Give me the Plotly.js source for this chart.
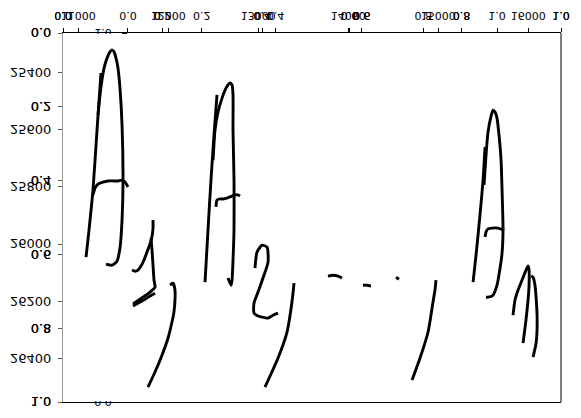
<!DOCTYPE html>
<html><head><meta charset="utf-8">
<script src="https://cdn.plot.ly/plotly-3.0.1.min.js"></script>
<style>
html,body{margin:0;padding:0;background:#fff;overflow:hidden}
#chart{width:581px;height:418px;transform:scaleY(-1);transform-origin:50% 50%;}
</style></head><body><div id="chart"></div><script>
// tick sets
const unitTicks = [0, 0.2, 0.4, 0.6, 0.8, 1.0];
const unitLabels = ["0.0", "0.2", "0.4", "0.6", "0.8", "1.0"];
const xTicks = [11000, 12000, 13000, 14000, 15000, 16000];
const xLabels = ["11000", "12000", "13000", "14000", "15000", "16000"];
const yTicks = [25400, 25600, 25800, 26000, 26200, 26400];
const yLabels = ["25400", "25600", "25800", "26000", "26200", "26400"];
const insetYTicks = [0, 1];
const insetYLabels = ["0.0", "1.0"];

// curve strokes (x, y)
const leg1X = [11086, 11119, 11163, 11208, 11252];
const leg1Y = [26046, 25951, 25811, 25601, 25401];
const arch1X = [11219, 11241, 11263, 11286, 11319, 11352, 11374, 11397, 11419, 11441, 11463, 11486, 11497, 11486, 11463, 11430, 11374, 11308];
const arch1Y = [25548, 25478, 25426, 25384, 25349, 25327, 25320, 25327, 25349, 25384, 25454, 25583, 25776, 25916, 26014, 26060, 26074, 26070];
const shelf1X = [11163, 11186, 11219, 11274, 11330, 11397, 11441, 11486, 11519, 11552];
const shelf1Y = [25828, 25804, 25790, 25783, 25779, 25779, 25779, 25776, 25783, 25800];
const hookAX = [11597, 11630, 11663, 11697, 11730, 11763, 11797, 11819, 11830, 11830];
const hookAY = [26091, 26095, 26091, 26077, 26056, 26028, 26000, 25973, 25944, 25916];
const hookBX = [11808, 11819, 11830, 11841, 11852, 11797, 11719, 11652, 11608];
const hookBY = [25979, 26021, 26074, 26126, 26151, 26168, 26186, 26200, 26210];
const hookCX = [11608, 11663, 11741, 11797, 11852];
const hookCY = [26217, 26207, 26193, 26182, 26172];
const tail1X = [12019, 12052, 12074, 12074, 12063, 12041, 11997, 11930, 11852, 11774];
const tail1Y = [26144, 26137, 26161, 26196, 26238, 26273, 26329, 26389, 26448, 26501];
const leg2X = [12408, 12441, 12474, 12508, 12541];
const leg2Y = [26133, 25951, 25776, 25618, 25478];
const arch2X = [12497, 12519, 12552, 12597, 12641, 12686, 12708, 12719, 12719, 12730, 12730, 12719, 12708, 12697, 12663];
const arch2Y = [25706, 25601, 25538, 25489, 25454, 25436, 25443, 25478, 25601, 25776, 25951, 26056, 26126, 26144, 26119];
const shelf2X = [12530, 12541, 12574, 12608, 12652, 12686, 12741, 12774, 12797];
const shelf2Y = [25870, 25846, 25842, 25842, 25839, 25835, 25828, 25828, 25832];
const loopX = [12963, 12986, 13041, 13097, 13108, 13052, 12997, 12952, 12952, 12997, 13041, 13108, 13163, 13219];
const loopY = [26084, 26028, 26004, 26011, 26063, 26119, 26168, 26207, 26242, 26252, 26256, 26259, 26249, 26242];
const tail2X = [13397, 13374, 13319, 13219, 13074];
const tail2Y = [26137, 26203, 26308, 26399, 26501];
const dashAX = [13774, 13830, 13886, 13930];
const dashAY = [26112, 26109, 26112, 26119];
const dashBX = [14163, 14208, 14252];
const dashBY = [26144, 26144, 26147];
const dashCX = [14530, 14563];
const dashCY = [26116, 26123];
const tail3X = [14974, 14963, 14941, 14886, 14797, 14708];
const tail3Y = [26126, 26161, 26203, 26308, 26399, 26476];
const leg3X = [15386, 15419, 15463, 15497, 15519];
const leg3Y = [26133, 26039, 25898, 25776, 25660];
const arch3X = [15508, 15530, 15552, 15586, 15608, 15630, 15652, 15674, 15697, 15708, 15719, 15708, 15686, 15652, 15608, 15552, 15530];
const arch3Y = [25793, 25688, 25608, 25552, 25531, 25538, 25559, 25618, 25706, 25811, 25951, 26032, 26084, 26144, 26179, 26186, 26186];
const shelf3X = [15519, 15530, 15552, 15597, 15663, 15730];
const shelf3Y = [25975, 25958, 25947, 25944, 25944, 25951];
const peakAX = [15830, 15852, 15886, 15930, 15974, 15997, 16008, 16008, 15997, 15974, 15941];
const peakAY = [26249, 26196, 26161, 26126, 26091, 26077, 26091, 26144, 26196, 26266, 26347];
const peakBX = [16030, 16052, 16074, 16086, 16097, 16097, 16086, 16052];
const peakBY = [26112, 26116, 26144, 26186, 26249, 26301, 26347, 26396];

const strokes = [
  [leg1X, leg1Y], [arch1X, arch1Y], [shelf1X, shelf1Y],
  [hookAX, hookAY], [hookBX, hookBY], [hookCX, hookCY], [tail1X, tail1Y],
  [leg2X, leg2Y], [arch2X, arch2Y], [shelf2X, shelf2Y],
  [loopX, loopY], [tail2X, tail2Y],
  [dashAX, dashAY], [dashBX, dashBY], [dashCX, dashCY], [tail3X, tail3Y],
  [leg3X, leg3Y], [arch3X, arch3Y], [shelf3X, shelf3Y],
  [peakAX, peakAY], [peakBX, peakBY]
];

const traces = strokes.map(([xs, ys]) => ({
  type: 'scatter', mode: 'lines', x: xs, y: ys, xaxis: 'x3', yaxis: 'y3',
  line: {color: '#000', width: 2.9, shape: 'spline', smoothing: 0.6},
  hoverinfo: 'skip'
}));
traces.push({type: 'scatter', mode: 'lines', x: [], y: [], xaxis: 'x', yaxis: 'y'});
traces.push({type: 'scatter', mode: 'lines', x: [], y: [], xaxis: 'x2', yaxis: 'y2'});
traces.push({type: 'scatter', mode: 'lines', x: [], y: [], xaxis: 'x4', yaxis: 'y4'});

const yfont = {family: 'DejaVu Sans', size: 13, color: '#000'};
const xfont = {family: 'DejaVu Sans', size: 11, color: '#000'};
const base = {showgrid: false, zeroline: false, ticks: 'outside', ticklen: 4, tickwidth: 1, tickcolor: '#000', fixedrange: true};

const layout = {
  width: 581, height: 418,
  margin: {l: 63, r: 20, t: 16, b: 33, pad: 0},
  paper_bgcolor: '#fff', plot_bgcolor: 'rgba(0,0,0,0)', showlegend: false,
  xaxis: Object.assign({}, base, {range: [0, 1], tickvals: unitTicks, ticktext: unitLabels, tickfont: xfont,
    showline: true, linecolor: '#000', linewidth: 1, mirror: true, anchor: 'y', ticklabelstandoff: 3}),
  xaxis2: Object.assign({}, base, {range: [0, 1], tickvals: unitTicks, ticktext: unitLabels, tickfont: xfont,
    overlaying: 'x', anchor: 'y', showline: false, ticklabelstandoff: 3}),
  xaxis3: Object.assign({}, base, {range: [10830, 16363], tickvals: xTicks, ticktext: xLabels, tickfont: xfont,
    overlaying: 'x', anchor: 'y', showline: false, ticklabelstandoff: 3}),
  xaxis4: Object.assign({}, base, {domain: [0.1305, 0.8715], range: [0, 1], tickvals: unitTicks, ticktext: unitLabels,
    tickfont: xfont, anchor: 'y4', showline: false, ticklabelstandoff: 3}),
  yaxis: Object.assign({}, base, {range: [0, 1], tickvals: unitTicks, ticktext: unitLabels, tickfont: yfont,
    showline: true, linecolor: '#999', linewidth: 1, tickcolor: '#555', anchor: 'x', ticklabelstandoff: 4}),
  yaxis2: Object.assign({}, base, {range: [0, 1], tickvals: unitTicks, ticktext: unitLabels, tickfont: yfont,
    overlaying: 'y', anchor: 'x', side: 'left', showline: false, tickcolor: '#555', ticklabelstandoff: 4}),
  yaxis3: Object.assign({}, base, {range: [25261, 26553], tickvals: yTicks, ticktext: yLabels, tickfont: yfont,
    overlaying: 'y', anchor: 'x', side: 'left', showline: false, tickcolor: '#555', ticklabelstandoff: 4}),
  yaxis4: Object.assign({}, base, {domain: [0, 1], range: [1, 0], tickvals: insetYTicks, ticktext: insetYLabels,
    tickfont: xfont, anchor: 'x4', side: 'left', showline: false, ticklen: 5, ticklabelstandoff: 8}),
  shapes: [
    {type: 'line', xref: 'paper', yref: 'paper', x0: 1, x1: 1, y0: 0, y1: 1, line: {color: '#000', width: 1}},
    {type: 'rect', xref: 'paper', yref: 'paper', x0: 0.05, x1: 0.128, y0: 0.003, y1: 0.03, fillcolor: '#fff', line: {width: 0}, layer: 'above'},
    {type: 'rect', xref: 'paper', yref: 'paper', x0: 0.05, x1: 0.128, y0: 0.97, y1: 0.997, fillcolor: '#fff', line: {width: 0}, layer: 'above'}
  ]
};

Plotly.newPlot('chart', traces, layout, {displayModeBar: false, staticPlot: true});
</script></body></html>
